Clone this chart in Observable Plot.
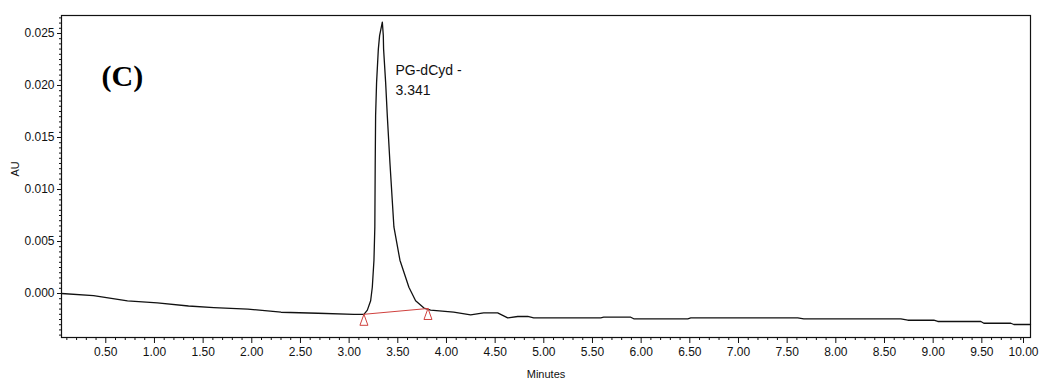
<!DOCTYPE html>
<html>
<head>
<meta charset="utf-8">
<script src="https://cdn.jsdelivr.net/npm/d3@7"></script>
<script src="https://cdn.jsdelivr.net/npm/@observablehq/plot@0.6"></script>
<style>
  html, body { margin: 0; padding: 0; background: #fff; }
  #chart svg { display: block; }
</style>
</head>
<body>
<div id="chart"></div>
<script>
// Chromatogram trace (Minutes, AU)
const time = [0.045, 0.374, 0.723, 1.03, 1.35, 1.61, 1.96, 2.30, 2.68, 3.05,
  3.152, 3.187, 3.221, 3.238, 3.255, 3.264, 3.268, 3.272, 3.282, 3.300, 3.313, 3.341,
  3.351, 3.354, 3.375, 3.392, 3.419, 3.460, 3.522, 3.614, 3.683, 3.769, 3.837,
  4.074, 4.248, 4.382, 4.526, 4.629, 4.732, 4.835, 4.896, 5.585, 5.616, 5.893, 5.924,
  6.479, 6.510, 7.609, 7.671, 8.668, 8.740, 9.007, 9.048, 9.490, 9.521, 9.798, 9.829, 10.0];
const au = [0.0000, -0.0002, -0.0007, -0.0009, -0.0012, -0.00135, -0.0015, -0.0018, -0.0019, -0.0020,
  -0.0020, -0.0016, -0.0007, 0.0006, 0.0032, 0.0064, 0.0126, 0.0171, 0.0203, 0.0235, 0.0248, 0.0261,
  0.0248, 0.0235, 0.0203, 0.0171, 0.0126, 0.0064, 0.0032, 0.0006, -0.0007, -0.0014, -0.0016,
  -0.0018, -0.00205, -0.00186, -0.00186, -0.00234, -0.00221, -0.00221, -0.00234, -0.00234, -0.00228, -0.00228, -0.00243,
  -0.00243, -0.00234, -0.00234, -0.00243, -0.00243, -0.00257, -0.00257, -0.00269, -0.00269, -0.00286, -0.00286, -0.00298, -0.00298];

// Integration baseline (peak start / end markers)
const blTime = [3.152, 3.810];
const blAU = [-0.0020, -0.00144];

// Peak annotation
const peakName = "PG-dCyd -";
const peakRT = "3.341";
const peakLabelX = 3.476;
const peakLabelY = 0.0224;
const panelLabel = "(C)";
const panelLabelX = 0.456;
const panelLabelY = 0.0209;

// Axis ticks
const xMajor = d3.range(1, 20).map(i => i * 0.5);
const xLast = [10.0];
const xMinor = d3.range(1, 101).filter(i => i % 5 !== 0).map(i => i / 10);
const yMajor = [0, 0.005, 0.010, 0.015, 0.020, 0.025];
const yMinor = d3.range(-8, 54).filter(i => i % 10 !== 0).map(i => i * 0.0005);

const trace = time.map((t, i) => ({t, v: au[i]}));
const baseline = blTime.map((t, i) => ({t, v: blAU[i]}));

const tri = {
  draw(ctx) {
    ctx.moveTo(0, 0);
    ctx.lineTo(4, 11);
    ctx.lineTo(-4, 11);
    ctx.closePath();
  }
};

const FONT = "'Liberation Sans', Arial, sans-serif";
const fmtX = d3.format(".2f");

const chart = Plot.plot({
  width: 1040,
  height: 381,
  marginLeft: 61,
  marginRight: 10,
  marginTop: 15,
  marginBottom: 44,
  style: {fontFamily: FONT, background: "#fff", color: "#111"},
  x: {domain: [0.045, 10.0]},
  y: {domain: [-0.00423, 0.02673]},
  marks: [
    Plot.frame({stroke: "#111", strokeWidth: 1.2}),
    Plot.axisX(xMinor, {tickSize: 3, text: null, label: null}),
    Plot.axisX(xMajor, {tickSize: 6, tickPadding: 4, tickFormat: fmtX, fontSize: 12, label: null}),
    Plot.axisX(xLast, {tickSize: 6, tickPadding: 4, tickFormat: fmtX, fontSize: 12, label: null, dx: -7}),
    Plot.axisY(yMinor, {tickSize: 2, text: null, label: null}),
    Plot.axisY(yMajor, {tickSize: 4, tickPadding: 3, tickFormat: d3.format(".3f"), fontSize: 12, label: null}),
    Plot.text(["Minutes"], {frameAnchor: "bottom", dy: 40, fontSize: 11, fill: "#111"}),
    Plot.text(["AU"], {frameAnchor: "left", dx: -46, rotate: -90, fontSize: 11, fill: "#111"}),
    Plot.line(trace, {x: "t", y: "v", stroke: "#111", strokeWidth: 1.3}),
    Plot.line(baseline, {x: "t", y: "v", stroke: "#d0413e", strokeWidth: 1}),
    Plot.dot(baseline, {x: "t", y: "v", symbol: tri, stroke: "#d0413e", fill: "none", strokeWidth: 1}),
    Plot.text([peakName + "\n" + peakRT], {x: peakLabelX, y: peakLabelY, textAnchor: "start", lineAnchor: "top", lineHeight: 1.43, fontSize: 14, fill: "#111"}),
    Plot.text([panelLabel], {x: panelLabelX, y: panelLabelY, textAnchor: "start", lineAnchor: "middle", fontSize: 30, fontWeight: "bold", fontFamily: "'Liberation Serif', 'Times New Roman', serif", fill: "#000"})
  ]
});
document.getElementById("chart").appendChild(chart);
</script>
</body>
</html>
